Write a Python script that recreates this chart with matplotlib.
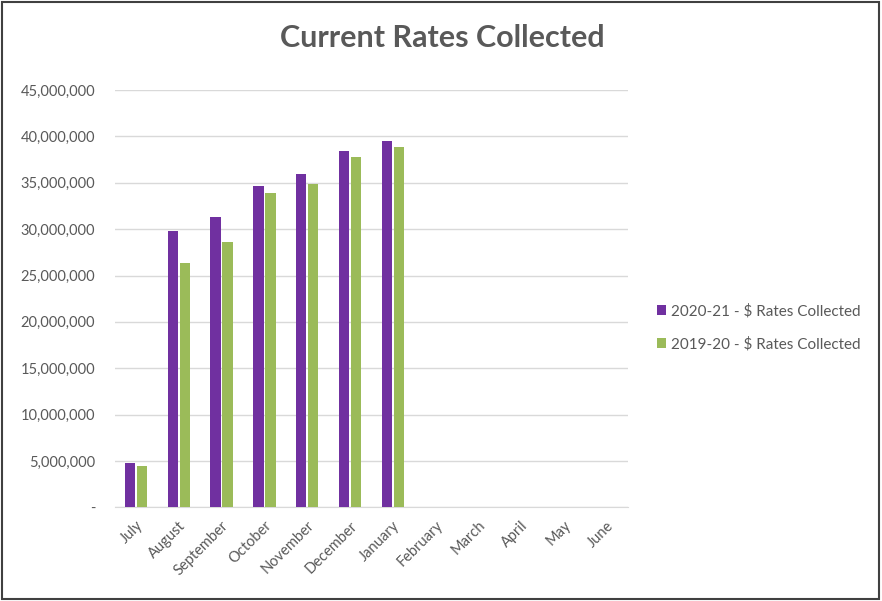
import numpy as np
import matplotlib.pyplot as plt
from matplotlib.patches import Rectangle
from matplotlib.ticker import FuncFormatter

# Monthly rates collected (cumulative, $)
months = ['July', 'August', 'September', 'October', 'November', 'December',
          'January', 'February', 'March', 'April', 'May', 'June']
rates_2021 = [4750000, 29800000, 31300000, 34700000, 35900000, 38400000, 39500000]
rates_1920 = [4500000, 26300000, 28600000, 33900000, 34900000, 37800000, 38900000]
series_names = ['2020-21 - $ Rates Collected', '2019-20 - $ Rates Collected']

purple = '#7030A0'
green = '#9BBB59'
grey = '#595959'

plt.rcParams['font.family'] = ['Lato', 'DejaVu Sans']

fig = plt.figure(figsize=(8.82, 6.01), dpi=100)
ax = fig.add_axes([0.130, 0.156, 0.582, 0.694])

x = np.arange(len(months))
w = 0.24
ax.bar(x[:len(rates_2021)] - 0.14, rates_2021, width=w, color=purple,
       label=series_names[0], zorder=3)
ax.bar(x[:len(rates_1920)] + 0.14, rates_1920, width=w, color=green,
       label=series_names[1], zorder=3)

ax.set_xlim(-0.5, len(months) - 0.5)
ax.set_ylim(0, 45000000)
ax.set_yticks(np.arange(0, 45000001, 5000000))
ax.yaxis.set_major_formatter(FuncFormatter(lambda v, p: '-' if v == 0 else f'{v:,.0f}'))
ax.grid(axis='y', color='#d9d9d9', linewidth=1, zorder=0)

for s in ['top', 'right', 'left']:
    ax.spines[s].set_visible(False)
ax.spines['bottom'].set_color('#d9d9d9')

ax.set_xticks(x)
ax.set_xticklabels(months, rotation=45, ha='right', rotation_mode='anchor')
ax.tick_params(axis='both', length=0, colors=grey, labelsize=10.5)
ax.tick_params(axis='y', pad=14)
ax.tick_params(axis='x', pad=8)

fig.text(0.502, 0.936, 'Current Rates Collected', ha='center', va='center',
         fontsize=22, fontweight='bold', color=grey)

ax.legend(loc='center left', bbox_to_anchor=(1.03, 0.43), frameon=False,
          fontsize=11, labelcolor=grey, handlelength=0.6, handleheight=0.6,
          handletextpad=0.3, labelspacing=1.2)

# outer frame
fig.patches.append(Rectangle((0.002, 0.003), 0.995, 0.994, transform=fig.transFigure,
                             fill=False, edgecolor='#404040', linewidth=1.5))

fig.savefig('out.png', dpi=100)
